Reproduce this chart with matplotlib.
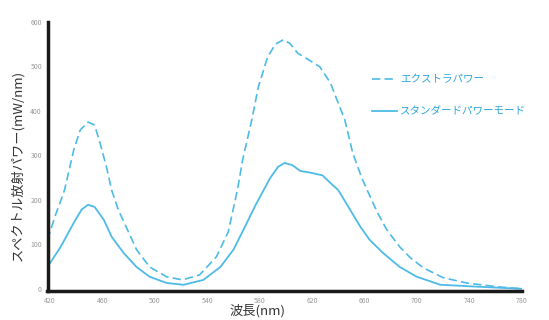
import numpy as np
import matplotlib
matplotlib.use("Agg")
import matplotlib.pyplot as plt

plt.rcParams['font.family'] = ['Noto Sans CJK JP', 'DejaVu Sans']

## Donnees (longueur d'onde, puissance)
wl_extra = [418, 424, 431, 438, 443, 449, 454, 458, 463, 467, 472, 479, 486,
            496, 509, 521, 534, 547, 556, 563, 567, 574, 579, 586, 592, 598,
            603, 609, 618, 626, 634, 639, 645, 651, 658, 663, 670, 677, 687,
            695, 705, 720, 738, 763, 780]
extra = [110, 165, 222, 312, 357, 375, 368, 329, 274, 222, 178, 133, 88,
         49, 27, 20, 31, 72, 128, 222, 290, 380, 454, 521, 550, 560,
         552, 530, 514, 499, 463, 425, 380, 306, 249, 216, 171, 133, 94,
         70, 47, 25, 13, 4, 0]
wl_std = [418, 420, 428, 438, 444, 449, 454, 461, 467, 476, 486, 496, 509,
          522, 537, 550, 560, 568, 577, 588, 594, 599, 605, 611, 619, 628,
          634, 640, 649, 657, 664, 674, 687, 700, 718, 751, 780]
standard = [52, 58, 94, 148, 178, 189, 184, 155, 117, 81, 49, 27, 13,
            9, 20, 49, 88, 135, 189, 249, 274, 283, 278, 265, 261, 255,
            238, 222, 178, 139, 110, 81, 49, 27, 9, 4, 0]
xticks = [420, 460, 500, 540, 580, 620, 660, 700, 740, 780]
yticks = [0, 100, 200, 300, 400, 500, 600]
labels = ['エクストラパワー', 'スタンダードパワーモード']

fig = plt.figure(figsize=(5.49, 3.2), dpi=100)
ax = fig.add_axes([47.5/549, 1-291/320, (521.6-47.5)/549, (291-22)/320])

blue = '#4dbbe6'
ax.plot(wl_extra, extra, color=blue, lw=1.2, ls=(0, (5, 2.5)), label=labels[0])
ax.plot(wl_std, standard, color=blue, lw=1.3, label=labels[1])

ax.set_xlim(418, 780)
ax.set_ylim(-5, 600)
ax.set_xticks(xticks)
ax.set_yticks(yticks)
ax.tick_params(length=0, labelsize=5, labelcolor='#999999', pad=4)
for s in ['top', 'right']:
    ax.spines[s].set_visible(False)
for s in ['left', 'bottom']:
    ax.spines[s].set_linewidth(2.5)
    ax.spines[s].set_color('#1a1a1a')

leg = ax.legend(loc='upper left', bbox_to_anchor=(0.665, 0.84), frameon=False,
                fontsize=7.6, handlelength=2.3, handletextpad=0.3,
                labelspacing=2.1)
for t in leg.get_texts():
    t.set_color('#2fa6d9')

fig.text(17/549, 1-165/320, 'スペクトル放射パワー(mW/nm)', rotation=90,
         ha='center', va='center', fontsize=9.5, color='#333333')
fig.text(258/549, 1-311/320, '波長(nm)', ha='center', va='center',
         fontsize=9.5, color='#333333')

plt.savefig('out.png', dpi=100)
